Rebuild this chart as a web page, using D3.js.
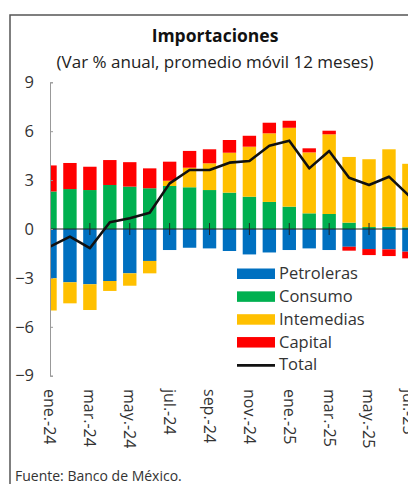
<!DOCTYPE html>
<html>
<head>
<meta charset="utf-8">
<script src="https://cdn.jsdelivr.net/npm/d3@7"></script>
<style>
  body { margin: 0; background: #fff; }
  svg { display: block; font-family: "Open Sans", sans-serif; }
</style>
</head>
<body>
<svg id="chart" width="408" height="484"></svg>
<script>
var months = ["ene.-24", "feb.-24", "mar.-24", "abr.-24", "may.-24", "jun.-24", "jul.-24", "ago.-24",
    "sep.-24", "oct.-24", "nov.-24", "dic.-24", "ene.-25", "feb.-25", "mar.-25", "abr.-25",
    "may.-25", "jun.-25", "jul.-25"];

var petroleras = [-3.02, -3.27, -3.39, -3.19, -2.72, -1.96, -1.29, -1.15, -1.19, -1.35, -1.56, -1.44,
    -1.29, -1.19, -1.29, -1.09, -1.23, -1.25, -1.39];
var consumo = [2.30, 2.45, 2.39, 2.70, 2.60, 2.50, 2.64, 2.56, 2.39, 2.23, 1.98, 1.66,
    1.37, 0.96, 0.92, 0.39, 0.12, 0.14, 0.10];
var intermedias = [-1.98, -1.29, -1.58, -0.61, -0.76, -0.76, 0.32, 1.20, 1.64, 2.45, 3.07, 4.21,
    4.84, 3.74, 4.89, 4.03, 4.16, 4.75, 3.90];
var capital = [1.60, 1.60, 1.43, 1.53, 1.50, 1.22, 1.17, 1.03, 0.86, 0.78, 0.67, 0.65,
    0.43, 0.25, 0.22, -0.24, -0.37, -0.41, -0.41];
var total = [-1.08, -0.47, -1.18, 0.41, 0.66, 1.00, 2.80, 3.62, 3.62, 4.07, 4.17, 5.11,
    5.42, 3.72, 4.79, 3.15, 2.70, 3.21, 2.05];

var yTicks = [-9, -6, -3, 0, 3, 6, 9];
var xLabels = ["ene.-24", "mar.-24", "may.-24", "jul.-24", "sep.-24", "nov.-24", "ene.-25", "mar.-25", "may.-25", "jul.-25"];

var keys = ["Petroleras", "Consumo", "Intemedias", "Capital"];
var colors = {Petroleras: "#0070C0", Consumo: "#00B050", Intemedias: "#FFC000", Capital: "#FF0000"};

var svg = d3.select("#chart");

var rows = months.map(function(m, i) {
    return {month: m, Petroleras: petroleras[i], Consumo: consumo[i], Intemedias: intermedias[i], Capital: capital[i]};
});

var x = d3.scalePoint().domain(months).range([50, 50 + 18 * 19.94]);
var barW = 13.4;
var y = d3.scaleLinear().domain([-9, 9]).range([375.7, 82.3]);

// frame
svg.append("path")
    .attr("d", "M10,484V15H408")
    .attr("fill", "none")
    .attr("stroke", "#555")
    .attr("stroke-width", 1.5);

svg.append("text")
    .attr("x", 215).attr("y", 42)
    .attr("text-anchor", "middle")
    .attr("font-weight", "bold")
    .attr("font-size", 17.5)
    .attr("fill", "#111")
    .text("Importaciones");

svg.append("text")
    .attr("x", 215).attr("y", 68)
    .attr("text-anchor", "middle")
    .attr("font-size", 17)
    .attr("fill", "#222")
    .text("(Var % anual, promedio móvil 12 meses)");

svg.append("clipPath").attr("id", "plot")
    .append("rect").attr("x", 50).attr("y", 0).attr("width", 400).attr("height", 484);

var series = d3.stack().keys(keys).offset(d3.stackOffsetDiverging)(rows);

var plot = svg.append("g").attr("clip-path", "url(#plot)");

plot.selectAll("g.series")
    .data(series)
    .join("g")
    .attr("class", "series")
    .attr("fill", function(d) { return colors[d.key]; })
    .selectAll("rect")
    .data(function(d) { return d; })
    .join("rect")
    .attr("x", function(d) { return x(d.data.month) - barW / 2; })
    .attr("width", barW)
    .attr("y", function(d) { return y(Math.max(d[0], d[1])); })
    .attr("height", function(d) { return Math.abs(y(d[0]) - y(d[1])); });

// zero line and category ticks
plot.append("line")
    .attr("x1", 50).attr("x2", 420)
    .attr("y1", y(0)).attr("y2", y(0))
    .attr("stroke", "#222").attr("stroke-width", 1);

plot.selectAll("line.xtick")
    .data(xLabels)
    .join("line")
    .attr("class", "xtick")
    .attr("x1", function(d) { return x(d); })
    .attr("x2", function(d) { return x(d); })
    .attr("y1", y(0) - 6).attr("y2", y(0) + 6)
    .attr("stroke", "#222").attr("stroke-width", 1);

var line = d3.line()
    .x(function(d, i) { return x(months[i]); })
    .y(function(d) { return y(d); });

plot.append("path")
    .datum(total)
    .attr("d", line)
    .attr("fill", "none")
    .attr("stroke", "#111")
    .attr("stroke-width", 2.6)
    .attr("stroke-linejoin", "round");

// y axis
var yAxis = svg.append("g")
    .attr("transform", "translate(50,0)")
    .call(d3.axisLeft(y).tickValues(yTicks).tickSizeInner(-3).tickSizeOuter(-3).tickPadding(16));
yAxis.select(".domain").attr("stroke", "#999");
yAxis.selectAll(".tick line").attr("stroke", "#999");
yAxis.selectAll(".tick text")
    .attr("font-size", 16.5)
    .attr("font-family", "Open Sans, sans-serif")
    .attr("fill", "#333");

// category labels
svg.selectAll("text.xlab")
    .data(xLabels)
    .join("text")
    .attr("class", "xlab")
    .attr("transform", function(d) { return "translate(" + x(d) + ",389) rotate(90)"; })
    .attr("dy", "0.35em")
    .attr("font-size", 16)
    .attr("fill", "#333")
    .text(function(d) { return d; });

// legend
var legendItems = keys.concat(["Total"]);
var legend = svg.append("g").attr("transform", "translate(237,279)");
legendItems.forEach(function(k, i) {
    var g = legend.append("g").attr("transform", "translate(0," + (i * 22.85) + ")");
    if (k === "Total") {
        g.append("line")
            .attr("x1", 0).attr("x2", 38)
            .attr("y1", -5).attr("y2", -5)
            .attr("stroke", "#111").attr("stroke-width", 2.6);
    } else {
        g.append("rect")
            .attr("x", 0).attr("y", -10.5)
            .attr("width", 38).attr("height", 10.5)
            .attr("fill", colors[k]);
    }
    g.append("text")
        .attr("x", 42).attr("y", 0)
        .attr("font-size", 16.5)
        .attr("fill", "#333")
        .text(k);
});

svg.append("text")
    .attr("x", 15).attr("y", 481)
    .attr("font-size", 14)
    .attr("fill", "#333")
    .text("Fuente: Banco de México.");
</script>
</body>
</html>
